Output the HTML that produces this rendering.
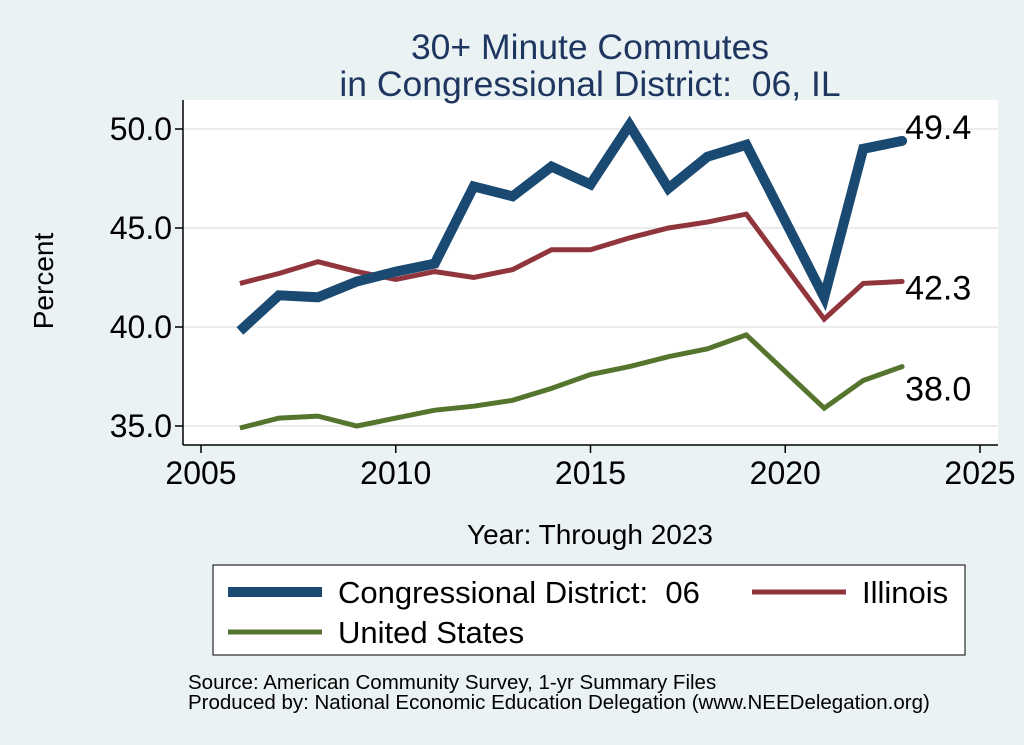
<!DOCTYPE html>
<html><head><meta charset="utf-8"><style>
body{margin:0;background:#eaf2f3;}
svg{display:block;font-family:"Liberation Sans",Arial,sans-serif;}
text{white-space:pre;}
</style></head><body>
<svg id="c" width="1024" height="745" xml:space="preserve">
<rect width="1024" height="745" fill="#eaf2f3"/>
<rect x="183" y="100" width="815" height="345" fill="#fff"/>
<text x="590" y="59" font-size="35.5" fill="#1e3660" text-anchor="middle">30+ Minute Commutes</text>
<text x="590" y="96" font-size="35.5" fill="#1e3660" text-anchor="middle">in Congressional District:&#160;&#160;06, IL</text>
<text transform="translate(53,281) rotate(-90)" font-size="28" text-anchor="middle">Percent</text>
<text x="590" y="544" font-size="28" text-anchor="middle">Year: Through 2023</text>
<g id="grid"></g><g id="axes"></g><g id="series"></g>
<rect x="213" y="565" width="752" height="90" fill="#fff" stroke="#000" stroke-width="1"/>
<g><line x1="228" y1="592" x2="322" y2="592" stroke="#1a4a72" stroke-width="10"/><text x="338" y="603" font-size="31">Congressional District:&#160;&#160;06</text></g>
<g><line x1="752" y1="592" x2="846" y2="592" stroke="#90353b" stroke-width="5"/><text x="862" y="603" font-size="31">Illinois</text></g>
<g><line x1="228" y1="632" x2="322" y2="632" stroke="#55752f" stroke-width="5"/><text x="338" y="643" font-size="31">United States</text></g>
<text x="188" y="689" font-size="20.5">Source: American Community Survey, 1-yr Summary Files</text>
<text x="188" y="709" font-size="20.5">Produced by: National Economic Education Delegation (www.NEEDelegation.org)</text>
</svg>
<script>
const years=[2006,2007,2008,2009,2010,2011,2012,2013,2014,2015,2016,2017,2018,2019,2021,2022,2023];
const district=[39.8,41.6,41.5,42.3,42.8,43.2,47.1,46.6,48.1,47.2,50.2,47.0,48.6,49.2,41.5,49.0,49.4];
const illinois=[42.2,42.7,43.3,42.8,42.4,42.8,42.5,42.9,43.9,43.9,44.5,45.0,45.3,45.7,40.4,42.2,42.3];
const us=[34.9,35.4,35.5,35.0,35.4,35.8,36.0,36.3,36.9,37.6,38.0,38.5,38.9,39.6,35.9,37.3,38.0];
const xTicks=[2005,2010,2015,2020,2025];
const yTicks=[35,40,45,50];
const yTickLabels=["35.0","40.0","45.0","50.0"];
const X=v=>201+(v-2005)*38.95, Y=v=>426-(v-35)*19.8;
const NS="http://www.w3.org/2000/svg";
function mk(p,t,a){const e=document.createElementNS(NS,t);for(const k in a)e.setAttribute(k,a[k]);p.appendChild(e);return e;}
const grid=document.getElementById('grid'),axes=document.getElementById('axes'),ser=document.getElementById('series');
yTicks.forEach((t,i)=>{
 const g=mk(grid,'line',{x1:183,x2:998,y1:Y(t),y2:Y(t),stroke:'#e6e6e6','stroke-width':1.5});
 
 
 const tk=mk(axes,'line',{x1:175,x2:183,y1:Y(t),y2:Y(t),stroke:'#000','stroke-width':1.5});
 
 
 const l=mk(axes,'text',{x:172,y:Y(t)+11,'font-size':32,'text-anchor':'end'});l.textContent=yTickLabels[i];
 
 
});
const ax=mk(axes,'line',{x1:183,x2:183,y1:100,y2:445,stroke:'#000','stroke-width':1.5});


const bx=mk(axes,'line',{x1:183,x2:998,y1:445,y2:445,stroke:'#000','stroke-width':1.5});


xTicks.forEach(t=>{
 const tk=mk(axes,'line',{x1:X(t),x2:X(t),y1:445,y2:453,stroke:'#000','stroke-width':1.5});
 
 
 const l=mk(axes,'text',{x:X(t),y:484,'font-size':32,'text-anchor':'middle'});l.textContent=t;
 
 
});
function line(vals,col,w,name){
 const d=vals.map((v,i)=>(i?'L':'M')+X(years[i]).toFixed(1)+','+Y(v).toFixed(1)).join('');
 const p=mk(ser,'path',{d:d,fill:'none',stroke:col,'stroke-width':w,'stroke-linejoin':'miter'});
 
 
 const n=vals.length-1;
 const c=mk(ser,'circle',{cx:X(years[n]),cy:Y(vals[n]),r:w/2,fill:col});
 
 
 return [X(years[n]),Y(vals[n]),vals[n]];
}
const a=line(us,'#55752f',5,'us-line');
const b=line(illinois,'#90353b',5,'illinois-line');
const c=line(district,'#1a4a72',10,'district-line');
[[c,-2],[b,18],[a,34]].forEach(([p,dy])=>{
 const t=mk(ser,'text',{x:p[0]+3,y:p[1]+dy,'font-size':34});t.textContent=p[2].toFixed(1);
 
 
});
</script>
</body></html>
